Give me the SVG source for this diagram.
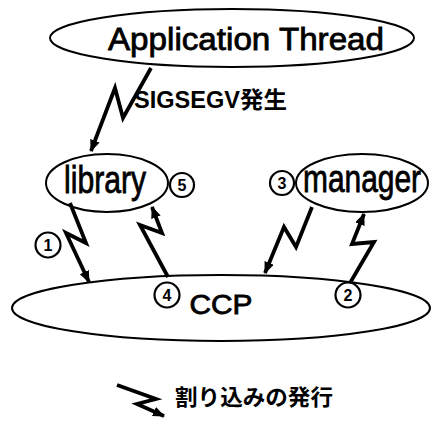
<svg xmlns="http://www.w3.org/2000/svg" width="431" height="424" viewBox="0 0 431 424">
<style>
.shape{fill:none;stroke:#000;stroke-width:2}
.ring{fill:none;stroke:#000;stroke-width:2.2}
.bolt{fill:none;stroke:#000;stroke-width:3.8;stroke-linejoin:miter;stroke-linecap:butt}
.lbl{font-family:"Liberation Sans",Arial,sans-serif;fill:#000;stroke:#000;stroke-width:0.8;text-anchor:middle}
.num{font-family:"Liberation Sans",Arial,sans-serif;font-weight:bold;font-size:16px;fill:#000;text-anchor:middle}
.jp{font-family:"Liberation Sans","Noto Sans CJK JP",sans-serif;font-weight:bold;fill:#000}
</style>
<defs>
<marker id="ah" markerUnits="userSpaceOnUse" markerWidth="14" markerHeight="12" refX="11" refY="5" orient="auto">
<path d="M0,0 L12,5 L0,10 Z" fill="#000"/>
</marker>
</defs>
<rect width="431" height="424" fill="#fff"/>
<g id="app-thread">
<ellipse class="shape" cx="232" cy="38" rx="182" ry="29"/>
<text class="lbl" x="246" y="50" font-size="31" textLength="276" lengthAdjust="spacingAndGlyphs">Application Thread</text>
</g>
<g id="library">
<ellipse class="shape" cx="107" cy="183" rx="61" ry="29"/>
<text class="lbl" x="105" y="193" font-size="38" textLength="82" lengthAdjust="spacingAndGlyphs">library</text>
</g>
<g id="manager">
<ellipse class="shape" cx="362" cy="183" rx="66" ry="29"/>
<text class="lbl" x="362" y="192" font-size="38" textLength="118" lengthAdjust="spacingAndGlyphs">manager</text>
</g>
<g id="ccp">
<ellipse class="shape" cx="221" cy="308" rx="209" ry="33"/>
<text class="lbl" x="221" y="314" font-size="27" textLength="63" lengthAdjust="spacingAndGlyphs">CCP</text>
</g>
<g id="labels">
<g id="n1"><circle class="ring" cx="48" cy="245" r="12.5"/><text class="num" x="48" y="251">1</text></g>
<g id="n2"><circle class="ring" cx="348" cy="295" r="12.5"/><text class="num" x="348" y="301">2</text></g>
<g id="n3"><circle class="ring" cx="282" cy="183" r="12"/><text class="num" x="282" y="189">3</text></g>
<g id="n4"><circle class="ring" cx="167" cy="295" r="12.5"/><text class="num" x="167" y="301">4</text></g>
<g id="n5"><circle class="ring" cx="182" cy="185" r="12"/><text class="num" x="182" y="191">5</text></g>
<text class="jp" x="134" y="108" font-size="23" textLength="153" lengthAdjust="spacingAndGlyphs">SIGSEGV発生</text>
</g>
<g id="connectors">
<polyline class="bolt" points="151,68 123,118 115,88 91,151" marker-end="url(#ah)"/>
<polyline class="bolt" points="70,203 86,243 66,233 89,282" marker-end="url(#ah)"/>
<polyline class="bolt" points="168,277 140,225 162,233 152,207" marker-end="url(#ah)"/>
<polyline class="bolt" points="312,207 296,247 284,227 265,273" marker-end="url(#ah)"/>
<polyline class="bolt" points="350,283 374,242 352,244 364,214" marker-end="url(#ah)"/>
</g>
<g id="legend">
<polyline class="bolt" points="117,385 156,399 137,404 164,416" marker-end="url(#ah)"/>
<text class="jp" x="175" y="405" font-size="22" textLength="158" lengthAdjust="spacingAndGlyphs">割り込みの発行</text>
</g>
</svg>
